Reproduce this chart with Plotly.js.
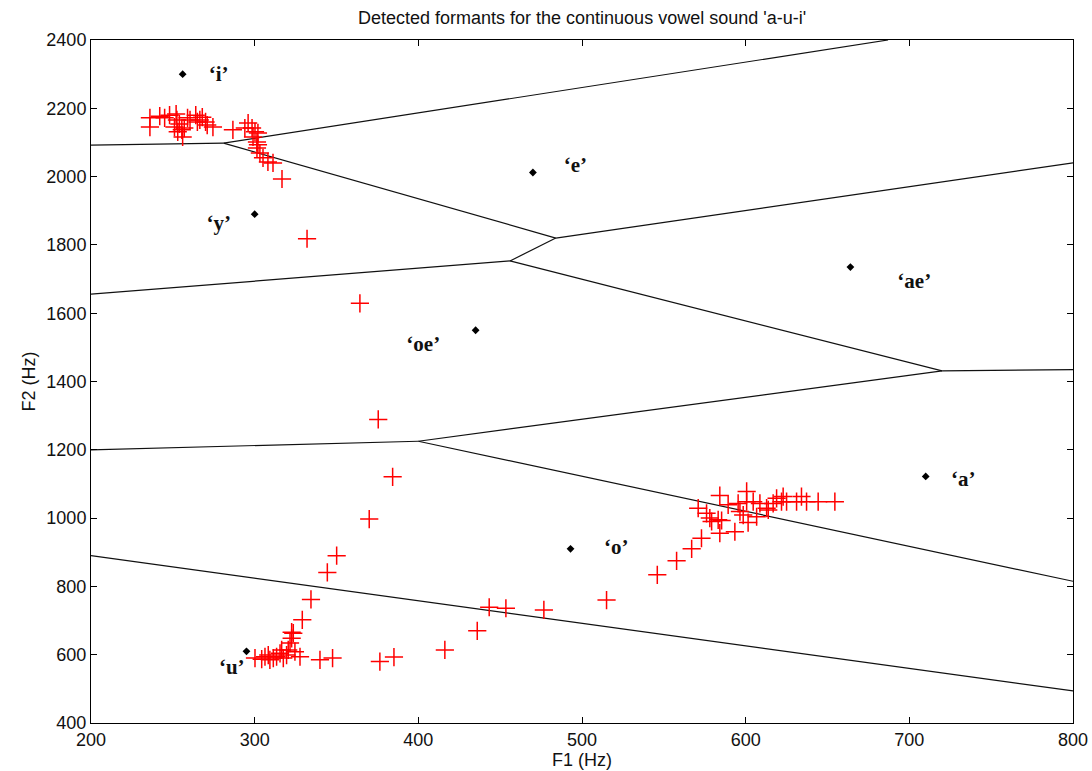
<!DOCTYPE html>
<html>
<head>
<meta charset="utf-8">
<script src="https://cdn.plot.ly/plotly-3.0.1.min.js"></script>
<style>
  html, body { margin: 0; padding: 0; background: #fff; }
  #chart { width: 1092px; height: 771px; }
</style>
</head>
<body>
<div id="chart"></div>
<script>
// Detected formant track (F1, F2) in Hz
const trackF1 = [
  236, 236, 242, 245, 248, 252, 252.5, 251, 253, 256, 254, 257, 260.5, 264, 265, 268, 270, 271, 274.5, 259, 266.5, 255.5,
  286.7, 294, 296, 298.4, 300.2, 302, 299, 301.4, 302, 301.4, 303.2, 305.1, 308.1, 311.2, 316.7,
  332, 364.3, 375.5, 384.3, 370, 350.1, 344.4, 334.4, 329.1, 322.6,
  300.2, 304.3, 306.3, 308.3, 309.3, 311.4, 313.4, 315.5, 316.5, 317.5, 319.5, 320.5, 321.6, 322.6, 323.6, 324.6, 327.7, 339.9, 347.6,
  376.5, 385.1, 416.2, 436, 443.3, 453.5, 476.7, 515,
  546, 557.8, 567, 573, 584.2, 593.4, 601.5, 571, 576.1, 578.1, 579.2, 583.2, 585.3, 584.2, 589.3, 595.4, 596.5, 598.5,
  600.6, 600.6, 604.6, 606.7, 608.7, 612.8, 613.8, 616.8, 618.9, 621.9, 622.9, 625, 631.1, 634.1, 637.2, 644.3, 654.5
];
const trackF2 = [
  2172, 2145, 2177, 2172, 2180, 2183, 2166, 2145, 2131, 2116, 2154, 2142, 2166, 2180, 2160, 2174, 2160, 2151, 2145, 2172, 2166, 2137,
  2137, 2142, 2157, 2142, 2131, 2128, 2116, 2101, 2093, 2084, 2069, 2055, 2043, 2040, 1993,
  1818, 1629, 1289, 1121, 997, 890, 841, 762, 702, 666,
  590, 587, 594, 599, 585, 590, 594, 604, 614, 590, 599, 614, 634, 648, 663, 609, 594, 585, 590,
  580, 593, 614, 670, 739, 736, 731, 760,
  834, 875, 910, 941, 956, 960, 987, 1029, 1014, 1000, 990, 995, 993, 1066, 1039, 1043, 1019, 1009,
  1078, 1048, 1048, 1004, 1043, 1029, 1024, 1043, 1058, 1048, 1063, 1048, 1048, 1063, 1048, 1048, 1048
];

// Reference vowel centres
const vowelNames = ["‘i’", "‘e’", "‘y’", "‘ae’", "‘oe’", "‘a’", "‘o’", "‘u’"];
const vowelF1 = [256, 470, 300, 664, 435, 710, 493, 295];
const vowelF2 = [2300, 2012, 1890, 1735, 1550, 1122, 910, 610];
const labelF1 = [278, 496, 278, 703, 403, 733, 521, 286];
const labelF2 = [2294, 2028, 1858, 1688, 1504, 1109, 910, 558];

// Region boundaries between vowels (segment endpoints)
const boundaryF1 = [
  [200, 281], [281, 687], [281, 484], [484, 800], [484, 456], [456, 200],
  [456, 720], [720, 800], [720, 400], [400, 200], [400, 800], [200, 800]
];
const boundaryF2 = [
  [2092, 2098], [2098, 2400], [2098, 1820], [1820, 2040], [1820, 1753], [1753, 1656],
  [1753, 1431], [1431, 1435], [1431, 1225], [1225, 1200], [1225, 815], [890, 494]
];

const xTicks = [200, 300, 400, 500, 600, 700, 800];
const yTicks = [400, 600, 800, 1000, 1200, 1400, 1600, 1800, 2000, 2200, 2400];

const bx = [], by = [];
boundaryF1.forEach((seg, i) => {
  bx.push(seg[0], seg[1], null);
  by.push(boundaryF2[i][0], boundaryF2[i][1], null);
});

const traces = [
  {
    x: bx, y: by, mode: 'lines', type: 'scatter',
    line: { color: '#111', width: 1.2 }, hoverinfo: 'skip'
  },
  {
    x: trackF1, y: trackF2, mode: 'markers', type: 'scatter',
    marker: { symbol: 'cross-thin-open', size: 13, line: { color: '#ff0000', width: 1.5 }, color: '#ff0000' }
  },
  {
    x: vowelF1, y: vowelF2, mode: 'markers', type: 'scatter',
    marker: { symbol: 'diamond', size: 6, color: '#000' }
  },
  {
    x: labelF1, y: labelF2, text: vowelNames, mode: 'text', type: 'scatter',
    textfont: { family: 'Liberation Serif, Times New Roman, serif', size: 21, color: '#111', weight: 'bold' },
    textposition: 'middle center', hoverinfo: 'skip'
  }
];

const axisFont = { family: 'Liberation Sans Narrow, Liberation Sans, Arial, sans-serif', size: 18, color: '#111' };

const layout = {
  width: 1092, height: 771,
  margin: { l: 91, r: 19, t: 40, b: 48 },
  paper_bgcolor: '#fff', plot_bgcolor: '#fff',
  showlegend: false,
  title: {
    text: "Detected formants for the continuous vowel sound 'a-u-i'",
    font: axisFont, x: 0.533, xanchor: 'center', y: 0.977, yanchor: 'middle'
  },
  xaxis: {
    range: [200, 800], tickvals: xTicks, ticktext: xTicks.map(String),
    showgrid: false, zeroline: false, showline: true, linecolor: '#000', linewidth: 1,
    mirror: 'ticks', ticks: 'inside', ticklen: 6, tickcolor: '#000',
    tickfont: axisFont, automargin: false,
    title: { text: 'F1 (Hz)', font: axisFont, standoff: 2 }
  },
  yaxis: {
    range: [400, 2400], tickvals: yTicks, ticktext: yTicks.map(String),
    showgrid: false, zeroline: false, showline: true, linecolor: '#000', linewidth: 1,
    mirror: 'ticks', ticks: 'inside', ticklen: 6, tickcolor: '#000',
    tickfont: axisFont, automargin: false,
    title: { text: 'F2 (Hz)', font: axisFont, standoff: 6 }
  }
};

Plotly.newPlot('chart', traces, layout, { displayModeBar: false, staticPlot: true });
</script>
</body>
</html>
